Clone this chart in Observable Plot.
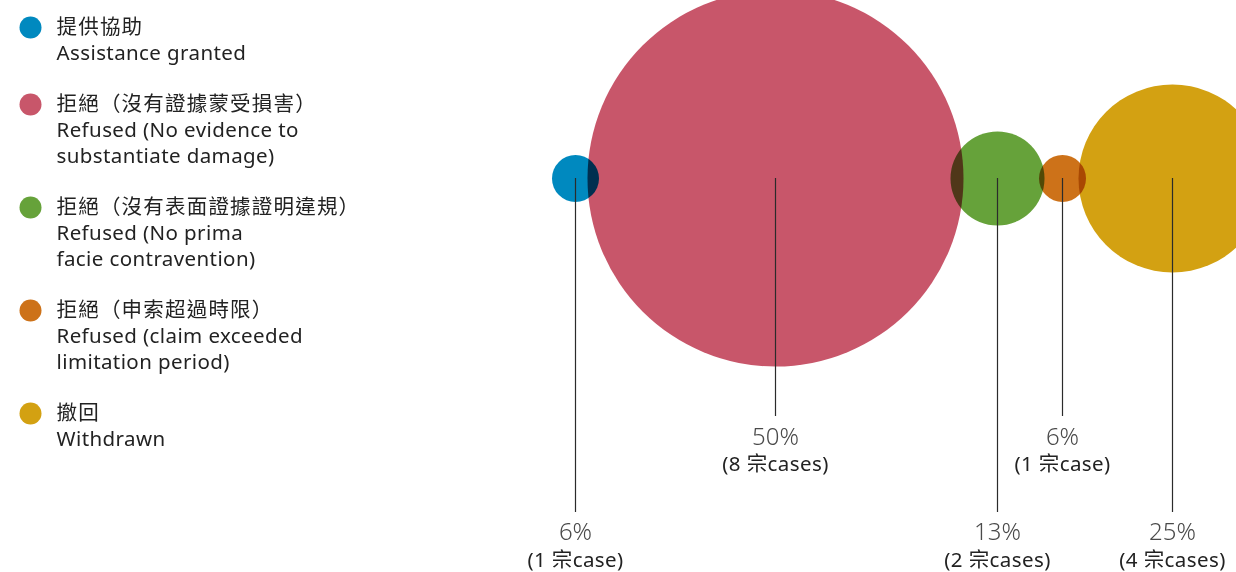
<!DOCTYPE html>
<html><head><meta charset="utf-8">
<script src="https://cdn.jsdelivr.net/npm/d3@7"></script>
<script src="https://cdn.jsdelivr.net/npm/@observablehq/plot@0.6"></script>
<style>
body{margin:0;background:#fff}
#chart{width:1236px;height:572px;overflow:hidden;position:relative}
#chart svg{display:block}
</style>
</head><body><div id="chart"></div>
<script>
// ---- data ----
const labelsZh = ["提供協助", "拒絕（沒有證據蒙受損害）", "拒絕（沒有表面證據證明違規）", "拒絕（申索超過時限）", "撤回"];
const labelsEn = [
  ["Assistance granted"],
  ["Refused (No evidence to", "substantiate damage)"],
  ["Refused (No prima", "facie contravention)"],
  ["Refused (claim exceeded", "limitation period)"],
  ["Withdrawn"]
];
const cases = [1, 8, 2, 1, 4];
const percentLabels = ["6%", "50%", "13%", "6%", "25%"];
const caseLabels = ["(1 宗case)", "(8 宗cases)", "(2 宗cases)", "(1 宗case)", "(4 宗cases)"];
const colors = ["#0089bf", "#c8566a", "#66a23a", "#cd7219", "#d3a112"];

// ---- layout ----
const W = 1236, H = 572;
const bubbleX = [575, 775, 997, 1062, 1172];
const bubbleY = 178;
const lineEnd = [512, 416];     // low row, high row
const pctY = [532, 437];
const caseY = [559.5, 464];
const font = "'Noto Sans', 'Noto Sans CJK TC', sans-serif";

const bubbles = cases.map((c, i) => ({
  i, c, x: bubbleX[i], color: colors[i],
  level: i % 2, pct: percentLabels[i], lab: caseLabels[i]
}));

// legend rows
const legendItems = [];
const legendLines = [];
let ly = 27;
labelsZh.forEach((zh, i) => {
  const lines = [zh, ...labelsEn[i]];
  legendItems.push({y: ly, color: colors[i]});
  lines.forEach((t, j) => legendLines.push({y: ly + j * 26, t, zh: j === 0}));
  ly += lines.length * 26 + 25;
});

const chart = Plot.plot({
  width: W, height: H,
  margin: 0,
  x: {type: "identity", axis: null},
  y: {type: "identity", axis: null},
  r: {type: "linear", domain: [0, 8], range: [0, 188]},
  color: {type: "identity"},
  marks: [
    Plot.dot(bubbles, {x: "x", y: () => bubbleY, r: "c", fill: "color", stroke: null, mixBlendMode: "multiply"}),
    Plot.ruleX(bubbles, {x: "x", y1: () => bubbleY, y2: d => lineEnd[d.level], stroke: "#2b2b2b", strokeWidth: 1.2}),
    Plot.text(bubbles, {x: "x", y: d => pctY[d.level], text: "pct", fontSize: 24, fontWeight: 300, fill: "#4a4a4a", fontFamily: font}),
    Plot.text(bubbles, {x: "x", y: d => caseY[d.level], text: "lab", fontSize: 20.5, fill: "#222", fontFamily: font, className: "caselab"}),
    Plot.dot(legendItems, {x: () => 30, y: "y", r: 11, fill: "color", stroke: null}),
    Plot.text(legendLines.filter(d => d.zh), {x: () => 56, y: "y", text: "t", textAnchor: "start", fontSize: 20.5, fill: "#222", fontFamily: font, className: "zhlab"}),
    Plot.text(legendLines.filter(d => !d.zh), {x: () => 56, y: "y", text: "t", textAnchor: "start", fontSize: 20.5, fill: "#222", fontFamily: font, className: "enlab"})
  ]
});
chart.querySelectorAll(".zhlab text").forEach(t => t.setAttribute("letter-spacing", "1.2"));
chart.querySelectorAll(".enlab text").forEach(t => t.setAttribute("letter-spacing", "0.4"));
chart.querySelectorAll(".caselab text").forEach(t => t.setAttribute("letter-spacing", "0.4"));
document.getElementById("chart").appendChild(chart);
</script>
</body></html>
